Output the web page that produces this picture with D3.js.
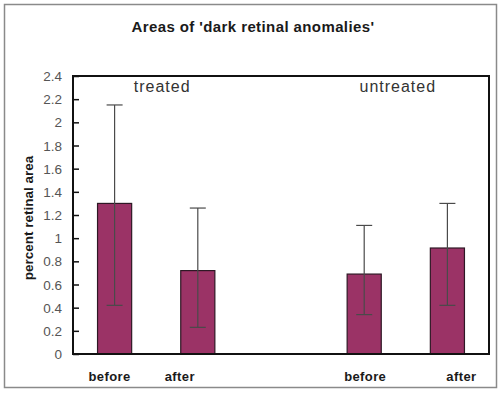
<!DOCTYPE html>
<html>
<head>
<meta charset="utf-8">
<script src="https://cdn.jsdelivr.net/npm/d3@7"></script>
<style>
  body { margin: 0; background: #fff; }
  text { font-family: "Liberation Sans", Arial, sans-serif; }
</style>
</head>
<body>
<div id="cont"></div>
<script>
// Data
var slots = ["t-before", "t-after", "gap", "u-before", "u-after"];
var barKeys = ["t-before", "t-after", "u-before", "u-after"];
var barLabels = ["before", "after", "before", "after"];
var means = [1.30, 0.72, 0.69, 0.915];
var errHigh = [2.15, 1.26, 1.11, 1.30];
var errLow = [0.42, 0.23, 0.34, 0.42];
var groups = ["treated", "untreated"];
var groupSlots = [["t-before", "t-after"], ["u-before", "u-after"]];
var yTicks = [0, 0.2, 0.4, 0.6, 0.8, 1, 1.2, 1.4, 1.6, 1.8, 2, 2.2, 2.4];
var title = "Areas of 'dark retinal anomalies'";
var yTitle = "percent retinal area";

// Layout
var W = 500, H = 394;
var plot = {left: 73, top: 76, right: 489, bottom: 354};
var barColor = "#9b3366";

var svg = d3.select("#cont").append("svg")
    .attr("width", W)
    .attr("height", H);

// outer frame
svg.append("rect")
    .attr("x", 4.5).attr("y", 4.5)
    .attr("width", 492).attr("height", 383)
    .attr("fill", "#fff")
    .attr("stroke", "#8a8a8a")
    .attr("stroke-width", 1.5);

var x = d3.scaleBand()
    .domain(slots)
    .range([plot.left, plot.right])
    .paddingInner(0.59)
    .paddingOuter(0.295);

var y = d3.scaleLinear()
    .domain([0, 2.4])
    .range([plot.bottom, plot.top]);

// title
svg.append("text")
    .attr("x", 253).attr("y", 32)
    .attr("text-anchor", "middle")
    .attr("font-size", 15)
    .attr("font-weight", "bold")
    .attr("letter-spacing", 0.4)
    .attr("fill", "#1a1a1a")
    .text(title);

// bars
var bars = barKeys.map(function(k, i) {
    return {key: k, label: barLabels[i], v: means[i], hi: errHigh[i], lo: errLow[i]};
});

svg.append("g").selectAll("rect")
    .data(bars)
    .join("rect")
    .attr("x", function(d) { return x(d.key); })
    .attr("y", function(d) { return y(d.v); })
    .attr("width", x.bandwidth())
    .attr("height", function(d) { return y(0) - y(d.v); })
    .attr("fill", barColor)
    .attr("stroke", "#2e1825")
    .attr("stroke-width", 1.2);

// error bars
var eb = svg.append("g")
    .attr("stroke", "#4a4a4a")
    .attr("stroke-width", 1.2);
var capW = 8;
bars.forEach(function(d) {
    var cx = x(d.key) + x.bandwidth() / 2;
    eb.append("line")
        .attr("x1", cx).attr("x2", cx)
        .attr("y1", y(d.hi)).attr("y2", y(d.lo));
    [d.hi, d.lo].forEach(function(v) {
        eb.append("line")
            .attr("x1", cx - capW).attr("x2", cx + capW)
            .attr("y1", y(v)).attr("y2", y(v));
    });
});

// y axis (inward ticks)
var yAxis = svg.append("g")
    .attr("transform", "translate(" + plot.left + ",0)")
    .call(d3.axisRight(y)
        .tickValues(yTicks)
        .tickSize(6)
        .tickFormat(""));
yAxis.select(".domain").remove();
yAxis.selectAll("line").attr("stroke", "#111").attr("stroke-width", 1.5);

svg.append("g").selectAll("text")
    .data(yTicks)
    .join("text")
    .attr("x", 62)
    .attr("y", function(d) { return y(d) + 5; })
    .attr("text-anchor", "end")
    .attr("font-size", 13.5)
    .attr("fill", "#555")
    .text(function(d) { return String(Math.round(d * 10) / 10); });

// plot frame
svg.append("rect")
    .attr("x", plot.left).attr("y", plot.top)
    .attr("width", plot.right - plot.left)
    .attr("height", plot.bottom - plot.top)
    .attr("fill", "none")
    .attr("stroke", "#111")
    .attr("stroke-width", 2);

// y title
svg.append("text")
    .attr("transform", "translate(33,218) rotate(-90)")
    .attr("text-anchor", "middle")
    .attr("font-size", 13.5)
    .attr("font-weight", "bold")
    .attr("fill", "#1a1a1a")
    .text(yTitle);

// group labels
var groupNudge = [6, -8];
svg.append("g").selectAll("text")
    .data(groups)
    .join("text")
    .attr("x", function(d, i) {
        var a = groupSlots[i].map(function(k) { return x(k) + x.bandwidth() / 2; });
        return d3.mean(a) + groupNudge[i];
    })
    .attr("y", 92)
    .attr("text-anchor", "middle")
    .attr("font-size", 16)
    .attr("letter-spacing", 1)
    .attr("fill", "#333")
    .text(function(d) { return d; });

// category labels
var labelNudge = [-5, -18, 1, 14];
svg.append("g").selectAll("text")
    .data(bars)
    .join("text")
    .attr("x", function(d, i) { return x(d.key) + x.bandwidth() / 2 + labelNudge[i]; })
    .attr("y", 381)
    .attr("text-anchor", "middle")
    .attr("font-size", 13)
    .attr("font-weight", "bold")
    .attr("letter-spacing", 0.4)
    .attr("fill", "#1a1a1a")
    .text(function(d) { return d.label; });
</script>
</body>
</html>
